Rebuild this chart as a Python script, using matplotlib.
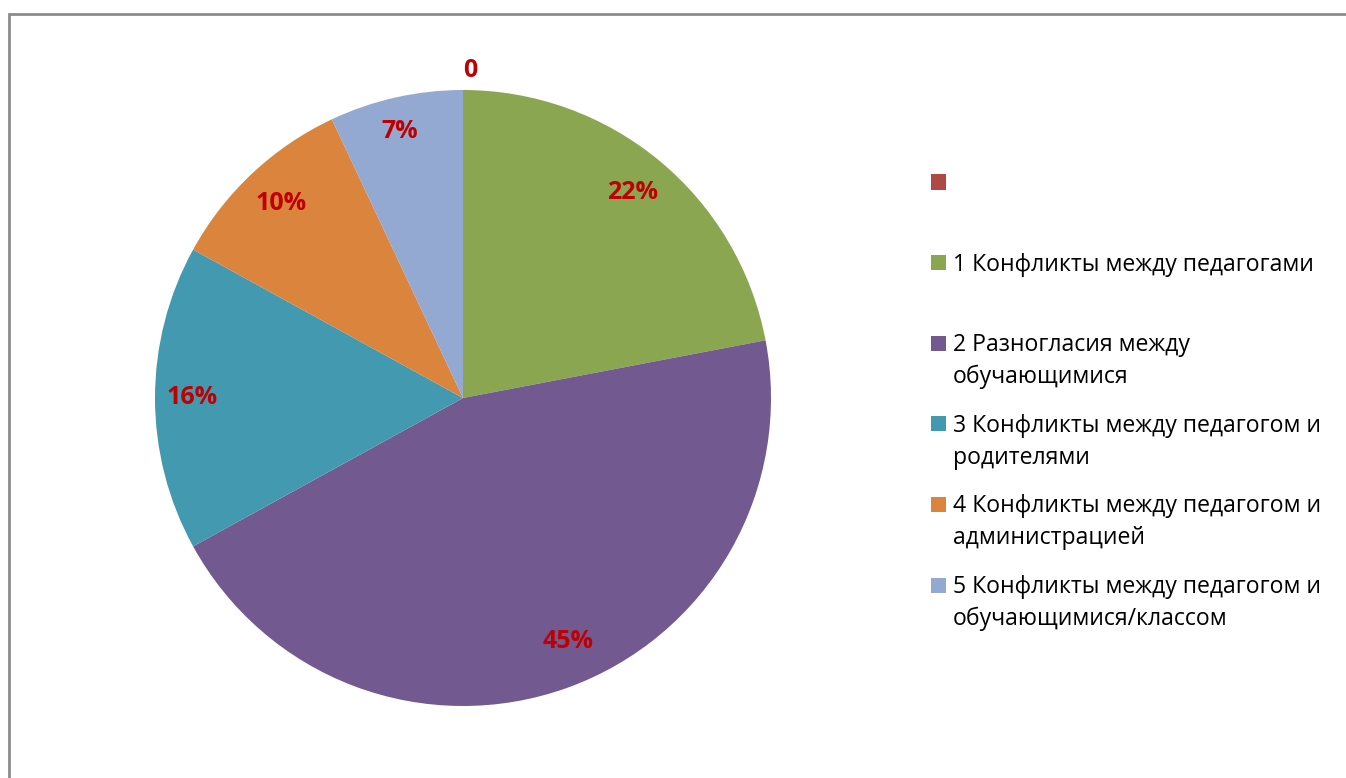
import numpy as np
import matplotlib
matplotlib.use("Agg")
import matplotlib.pyplot as plt
from matplotlib.patches import Rectangle

plt.rcParams['font.family'] = ['Open Sans', 'DejaVu Sans']

# ---- data ----
categories = [
    "",
    "1 Конфликты между педагогами",
    "2 Разногласия между\nобучающимися",
    "3 Конфликты между педагогом и\nродителями",
    "4 Конфликты между педагогом и\nадминистрацией",
    "5 Конфликты между педагогом и\nобучающимися/классом",
]
values = [0, 22, 45, 16, 10, 7]
colors = ["#AF4946", "#8BA650", "#72598F", "#4299B0", "#DB843D", "#94A9D1"]

# label placement (style): radius fraction and angle shift in degrees
label_radius = [1.065, 0.865, 0.86, 0.88, 0.865, 0.89]
label_shift = [-1.2, 0.0, 3.5, 0.0, 0.0, 0.8]

W, H = 1346, 778
fig = plt.figure(figsize=(W / 100, H / 100), dpi=100)

# outer frame
fig.patches.append(Rectangle((9 / W, -0.1), 1.2, (H - 14) / H + 0.1, transform=fig.transFigure,
                             fill=False, edgecolor="#8C8C8C", linewidth=2))

cx, cy, r = 463, 398, 308
ax = fig.add_axes([(cx - r) / W, (H - cy - r) / H, 2 * r / W, 2 * r / H])
wedges, _ = ax.pie(values, colors=colors, startangle=90, counterclock=False,
                   radius=1, wedgeprops=dict(linewidth=0))
ax.set_xlim(-1, 1)
ax.set_ylim(-1, 1)
ax.set_aspect("equal")
ax.axis("off")

total = sum(values)
for w, v, lr, sh in zip(wedges, values, label_radius, label_shift):
    ang = np.deg2rad((w.theta1 + w.theta2) / 2 + sh)
    txt = "0" if v == 0 else f"{round(100 * v / total)}%"
    ax.text(lr * np.cos(ang), lr * np.sin(ang), txt, ha="center", va="center",
            color="#C00000", fontsize=18, fontweight="bold", clip_on=False)

# legend
leg_x = 931
leg_y0 = 182
leg_dy = 80.6
sq = 15
line_h = 32
for i, (lab, c) in enumerate(zip(categories, colors)):
    yc = leg_y0 + i * leg_dy
    fig.patches.append(Rectangle((leg_x / W, (H - yc - sq / 2) / H), sq / W, sq / H,
                                 transform=fig.transFigure, facecolor=c, edgecolor="none"))
    for j, line in enumerate(lab.split("\n")):
        if line:
            fig.text(953 / W, (H - yc - 8 - j * line_h) / H, line, ha="left",
                     va="baseline", fontsize=16.6, color="black")

fig.savefig("out.png", dpi=100)
